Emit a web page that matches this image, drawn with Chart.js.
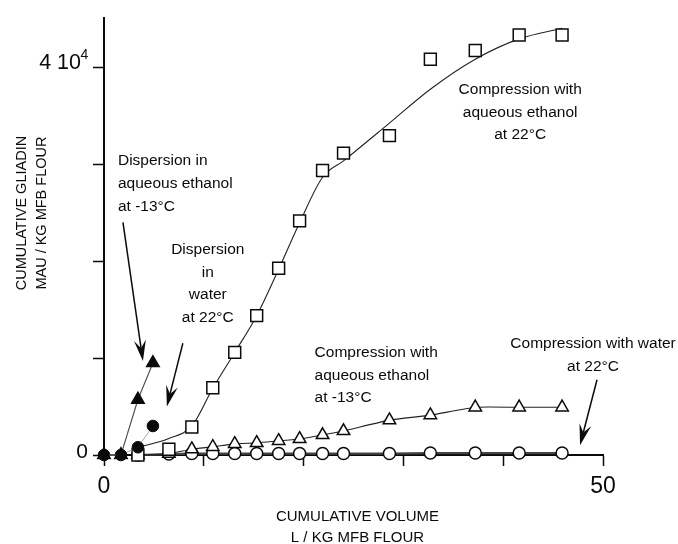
<!DOCTYPE html>
<html>
<head>
<meta charset="utf-8">
<script src="https://cdn.jsdelivr.net/npm/chart.js@4/dist/chart.umd.min.js"></script>
<style>
  html, body { margin: 0; padding: 0; background: #fff; }
  #wrap { width: 678px; height: 544px; }
</style>
</head>
<body>
<div id="wrap"><canvas id="chart" width="678" height="544"></canvas></div>
<script>
// Cumulative volume (L / kg MFB flour) at which each extract was collected
const volumes = [3.4, 6.5, 8.8, 10.9, 13.1, 15.3, 17.5, 19.6, 21.9, 24.0, 28.6, 32.7, 37.2, 41.6, 45.9];

// Cumulative gliadin (MAU / kg MFB flour) for the compression runs
const ethanolWarm    = [0, 600, 2900, 6950, 10600, 14400, 19300, 24200, 29400, 31200, 33000, 40900, 41800, 43400, 43400];
const ethanolWarmFit = [800, 1700, 3000, 6900, 10600, 14400, 19200, 24000, 28700, 30400, 34300, 37800, 40900, 43000, 44100];
const ethanolCold    = [0, 130, 600, 840, 1150, 1250, 1460, 1660, 2070, 2480, 3600, 4120, 4930, 4930, 4930];
const waterWarm      = [0, 100, 150, 150, 150, 150, 150, 150, 150, 150, 150, 200, 200, 200, 200];

// Dispersion runs
const dispVolumes = [0, 1.7, 3.4, 4.9];
const dispWater   = [0, 0, 800, 3000];
const dispEthanol = [0, 0, 5730, 9510];

// Axes
const xTicks = [0, 10, 20, 30, 40, 50];
const yTicks = [0, 10000, 20000, 30000, 40000];
const xTickLabels = { 0: '0', 50: '50' };
const yTickLabels = { 0: '0' };
const yMax = 45200;

const FONT = "'Liberation Sans', Arial, Helvetica, sans-serif";
const INK = '#0a0a0a';

// Curve labels, anchored in data units
const notes = [
  { x: 1.4,  y: 30370, align: 'left',   gap: 23,   lines: ['Dispersion in', 'aqueous ethanol', 'at -13°C'] },
  { x: 10.4, y: 21170, align: 'center', gap: 22.5, lines: ['Dispersion', 'in', 'water', 'at 22°C'] },
  { x: 41.7, y: 37730, align: 'center', gap: 22.5, lines: ['Compression with', 'aqueous ethanol', 'at 22°C'] },
  { x: 21.1, y: 10530, align: 'left',   gap: 22.5, lines: ['Compression with', 'aqueous ethanol', 'at -13°C'] },
  { x: 49.0, y: 11450, align: 'center', gap: 23,   lines: ['Compression with water', 'at 22°C'] }
];

// Pointer arrows: [from x, from y, to x, to y] in data units
const pointers = [
  [1.9, 24030, 3.9, 9710],
  [7.9, 11550, 6.3, 5010],
  [49.4, 7770, 47.7, 1020]
];

const pts = (xs, ys) => xs.map((x, i) => ({ x, y: ys[i] }));

function drawArrow(ctx, x1, y1, x2, y2) {
  const a = Math.atan2(y2 - y1, x2 - x1);
  const L = 21, W = 6, notch = 13;
  ctx.beginPath();
  ctx.moveTo(x1, y1);
  ctx.lineTo(x2 - Math.cos(a) * notch, y2 - Math.sin(a) * notch);
  ctx.stroke();
  ctx.save();
  ctx.translate(x2, y2);
  ctx.rotate(a);
  ctx.beginPath();
  ctx.moveTo(0, 0);
  ctx.lineTo(-L, -W);
  ctx.lineTo(-notch, 0);
  ctx.lineTo(-L, W);
  ctx.closePath();
  ctx.fill();
  ctx.restore();
}

const annotations = {
  id: 'annotations',
  afterDraw(chart) {
    const { ctx, chartArea: area, scales: { x, y } } = chart;
    ctx.save();
    ctx.fillStyle = INK;
    ctx.strokeStyle = INK;
    ctx.textBaseline = 'middle';

    // curve labels
    ctx.font = `15.5px ${FONT}`;
    notes.forEach(n => {
      ctx.textAlign = n.align;
      const px = x.getPixelForValue(n.x);
      const py = y.getPixelForValue(n.y);
      n.lines.forEach((t, i) => ctx.fillText(t, px, py + i * n.gap));
    });

    // arrows
    ctx.lineWidth = 1.5;
    pointers.forEach(p => drawArrow(ctx,
      x.getPixelForValue(p[0]), y.getPixelForValue(p[1]),
      x.getPixelForValue(p[2]), y.getPixelForValue(p[3])));

    // "4 10^4" tick label
    const ty = y.getPixelForValue(40000);
    ctx.textAlign = 'right';
    ctx.font = `21.5px ${FONT}`;
    ctx.fillText('4 10', area.left - 23, ty - 5);
    ctx.textAlign = 'left';
    ctx.font = `14px ${FONT}`;
    ctx.fillText('4', area.left - 23.5, ty - 13);

    // axis titles
    ctx.textAlign = 'center';
    ctx.font = `15px ${FONT}`;
    const cx = (area.left + area.right) / 2 + 4;
    ctx.fillText('CUMULATIVE VOLUME', cx, area.bottom + 62);
    ctx.fillText('L / KG MFB FLOUR', cx, area.bottom + 83);

    ctx.save();
    ctx.translate(area.left - 82, y.getPixelForValue(25000));
    ctx.rotate(-Math.PI / 2);
    ctx.font = `14.5px ${FONT}`;
    ctx.fillText('CUMULATIVE GLIADIN', 0, 0);
    ctx.fillText('MAU / KG MFB FLOUR', 0, 20);
    ctx.restore();

    ctx.restore();
  }
};

new Chart(document.getElementById('chart'), {
  type: 'scatter',
  data: {
    datasets: [
      { label: 'Dispersion in aqueous ethanol at -13°C', data: pts(dispVolumes, dispEthanol),
        showLine: true, borderColor: '#555', borderWidth: 1.2,
        pointStyle: 'triangle', pointRadius: 7.5, pointBackgroundColor: INK, pointBorderColor: INK, clip: false },
      { label: 'Dispersion in water at 22°C', data: pts(dispVolumes, dispWater),
        showLine: true, borderColor: '#aaa', borderWidth: 1,
        pointStyle: 'circle', pointRadius: 5.8, pointBackgroundColor: INK, pointBorderColor: INK, clip: false },
      { label: 'Compression with aqueous ethanol at 22°C', data: pts(volumes, ethanolWarm),
        showLine: false, pointStyle: 'rect', pointRadius: 8.4, pointBorderWidth: 1.5,
        pointBackgroundColor: '#fff', pointBorderColor: INK, clip: false },
      { label: 'Compression with aqueous ethanol at -13°C', data: pts(volumes, ethanolCold),
        showLine: true, borderColor: '#222', borderWidth: 1.1, tension: 0.15,
        pointStyle: 'triangle', pointRadius: 7.2, pointBorderWidth: 1.5,
        pointBackgroundColor: '#fff', pointBorderColor: INK, clip: false },
      { label: 'Compression with water at 22°C', data: pts(volumes, waterWarm),
        showLine: true, borderColor: '#444', borderWidth: 2.2,
        pointStyle: 'circle', pointRadius: 6, pointBorderWidth: 1.5,
        pointBackgroundColor: '#fff', pointBorderColor: INK, clip: false },
      { label: 'Fit', data: pts(volumes, ethanolWarmFit),
        showLine: true, borderColor: '#222', borderWidth: 1.1, cubicInterpolationMode: 'monotone',
        pointRadius: 0, clip: false }
    ]
  },
  options: {
    responsive: false,
    animation: false,
    devicePixelRatio: 1,
    layout: { padding: { left: 0, right: 75, top: 13, bottom: 0 } },
    plugins: { legend: { display: false }, tooltip: { enabled: false } },
    scales: {
      x: {
        type: 'linear', min: 0, max: 50,
        afterBuildTicks: s => { s.ticks = xTicks.map(v => ({ value: v })); },
        afterFit: s => { s.height = 89; },
        border: { display: true, color: INK, width: 2 },
        grid: { drawOnChartArea: false, drawTicks: true, tickLength: 11, tickWidth: 1.5, tickColor: INK },
        ticks: { color: INK, padding: 7, font: { family: FONT, size: 23 }, maxRotation: 0,
                 callback: v => xTickLabels[v] ?? '' }
      },
      y: {
        type: 'linear', min: 0, max: yMax,
        afterBuildTicks: s => { s.ticks = yTicks.map(v => ({ value: v })); },
        afterFit: s => { s.width = 104; },
        border: { display: true, color: INK, width: 2 },
        grid: { drawOnChartArea: false, drawTicks: true, tickLength: 11, tickWidth: 1.5, tickColor: INK },
        ticks: { color: INK, padding: 5, labelOffset: -3, font: { family: FONT, size: 21 },
                 callback: v => yTickLabels[v] ?? '' }
      }
    }
  },
  plugins: [annotations]
});
</script>
</body>
</html>
